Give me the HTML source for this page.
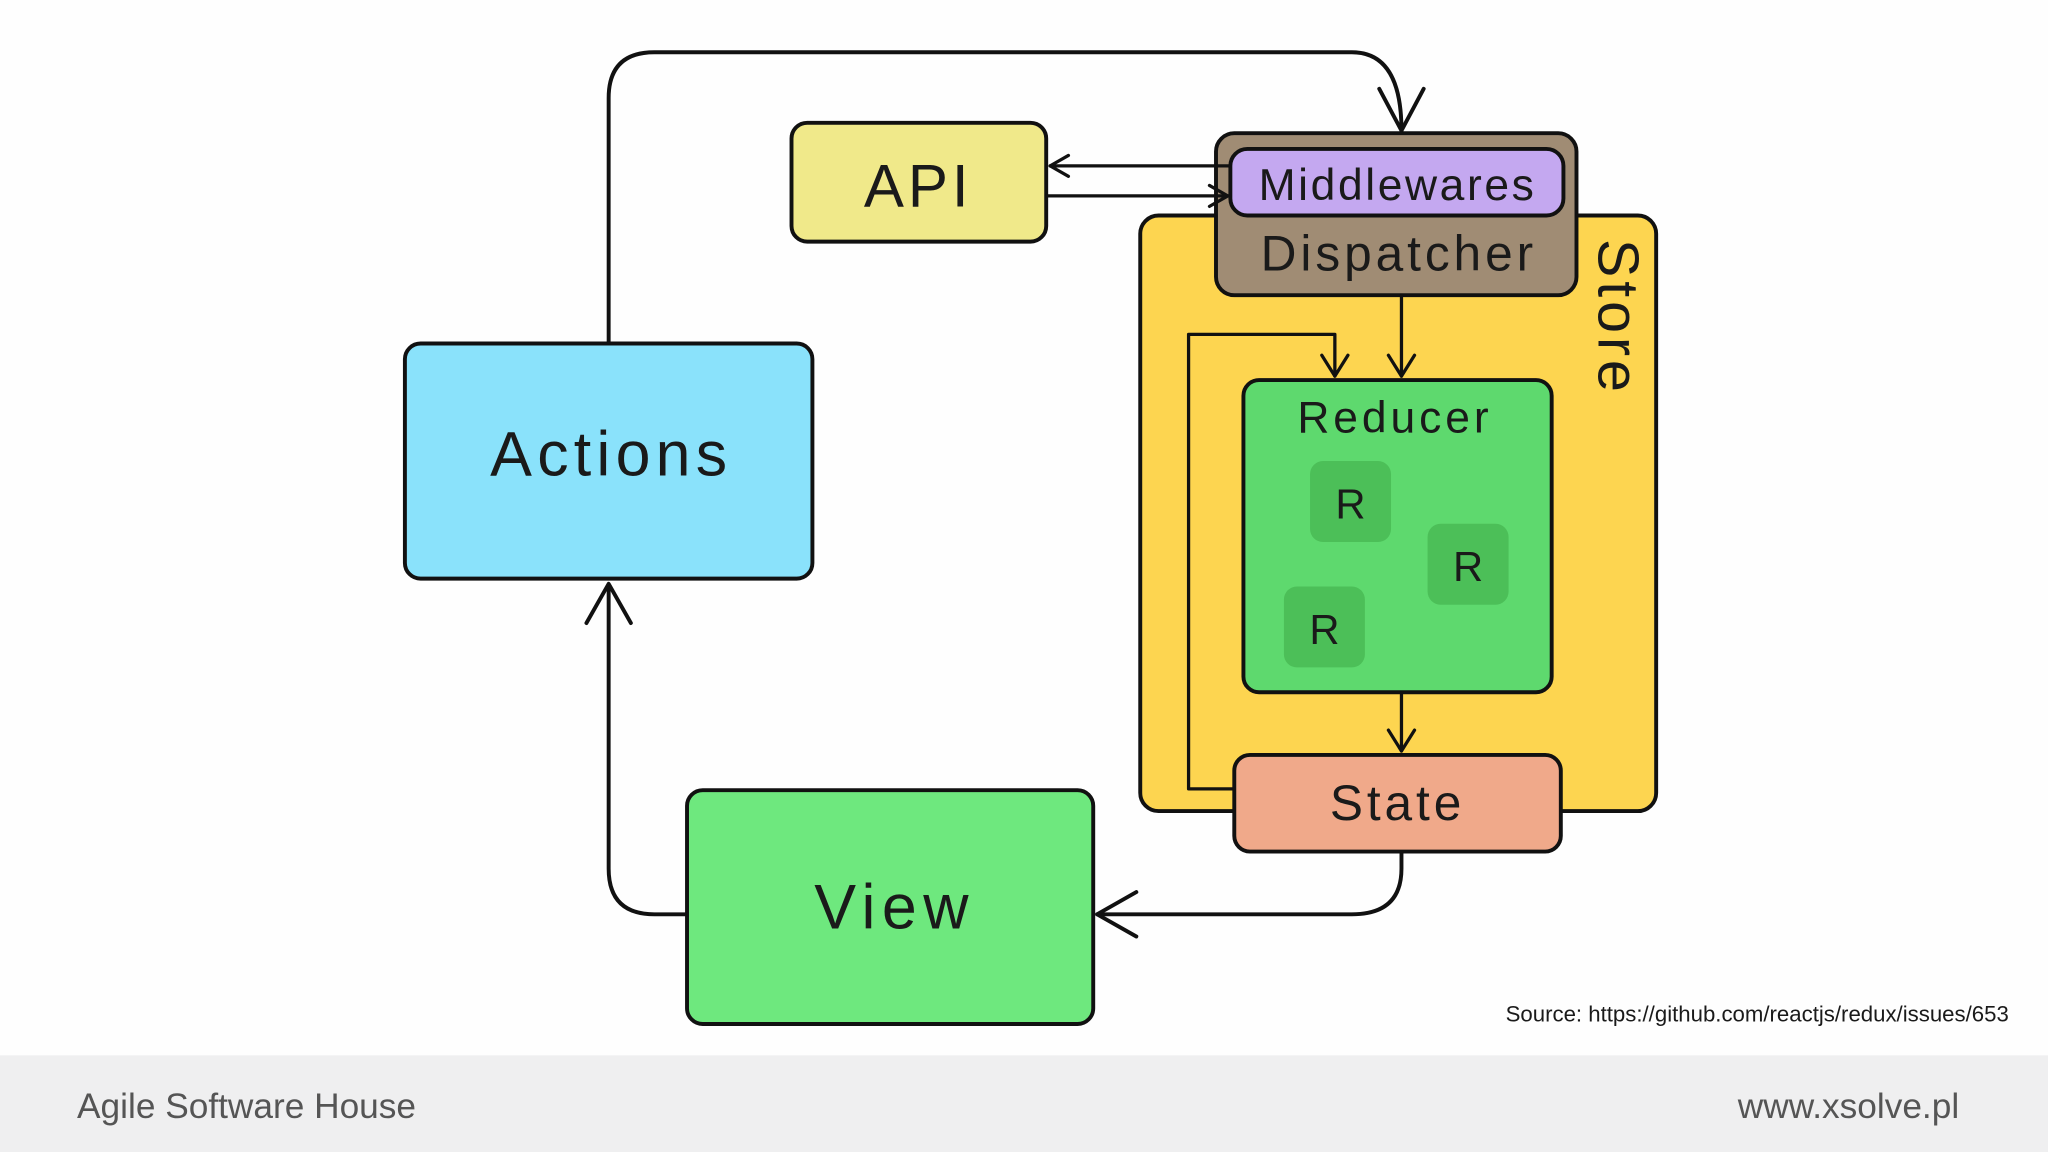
<!DOCTYPE html>
<html><head><meta charset="utf-8"><style>
html,body{margin:0;padding:0;background:#fff;}
svg{display:block;}
.t{font-family:"Liberation Sans",sans-serif;fill:#1a1a1a;}
</style></head><body>
<svg width="2048" height="1152" viewBox="0 0 1568 882" xmlns="http://www.w3.org/2000/svg">
<rect x="0" y="0" width="1568" height="882" fill="#fefefe"/>
<!-- footer -->
<rect x="0" y="808" width="1568" height="74" fill="#efeff0"/>
<text class="t" x="59" y="856" font-size="27" style="fill:#555">Agile Software House</text>
<text class="t" x="1500" y="856" font-size="27" text-anchor="end" style="fill:#555">www.xsolve.pl</text>
<text class="t" x="1538" y="782" font-size="17" text-anchor="end">Source: https://github.com/reactjs/redux/issues/653</text>

<g fill="none" stroke="#111" stroke-width="3" stroke-linecap="round" stroke-linejoin="round">
<path d="M466,263 V75 Q466,40 501,40 H1035 Q1073,40 1073,100"/>
<path d="M1056,68 L1073,100 L1090,68"/>
<path d="M526,700 H501 Q466,700 466,665 V448"/>
<path d="M449,477 L466,447 L483,477"/>
<path d="M1073,652 V665 Q1073,700 1035,700 H840"/>
<path d="M870,683 L840,700 L870,717"/>
</g>

<rect x="873" y="165" width="395" height="456" rx="14" fill="#fdd550" stroke="#111" stroke-width="3"/>
<text class="t" font-size="44" letter-spacing="3" transform="translate(1224,183) rotate(90)">Store</text>

<rect x="606" y="94" width="195" height="91" rx="12" fill="#f0e98a" stroke="#111" stroke-width="3"/>
<text class="t" x="703" y="158" font-size="46" text-anchor="middle" letter-spacing="3">API</text>

<rect x="931" y="102" width="276" height="124" rx="14" fill="#a08c74" stroke="#111" stroke-width="3"/>
<rect x="942" y="114" width="255" height="51" rx="13" fill="#c4a8f0" stroke="#111" stroke-width="3"/>
<text class="t" x="1070" y="153" font-size="34" text-anchor="middle" letter-spacing="2">Middlewares</text>
<text class="t" x="1071" y="207" font-size="38" text-anchor="middle" letter-spacing="3">Dispatcher</text>

<g fill="none" stroke="#111" stroke-width="2.5" stroke-linecap="round" stroke-linejoin="round">
<path d="M941,127 H804"/><path d="M818,119 L804,127 L818,135"/>
<path d="M801,150 H940"/><path d="M926,142 L940,150 L926,158"/>
<path d="M1073,226 V288"/><path d="M1063,272 L1073,288 L1083,272"/>
<path d="M945,604 H910 V256 H1022 V288"/><path d="M1012,272 L1022,288 L1032,272"/>
<path d="M1073,530 V575"/><path d="M1063,559 L1073,575 L1083,559"/>
</g>

<rect x="952" y="291" width="236" height="239" rx="12" fill="#5ed96e" stroke="#111" stroke-width="3"/>
<text class="t" x="1068" y="331" font-size="34" text-anchor="middle" letter-spacing="3">Reducer</text>
<rect x="1003" y="353" width="62" height="62" rx="10" fill="#4cbf58"/>
<text class="t" x="1034" y="397" font-size="32" text-anchor="middle">R</text>
<rect x="1093" y="401" width="62" height="62" rx="10" fill="#4cbf58"/>
<text class="t" x="1124" y="445" font-size="32" text-anchor="middle">R</text>
<rect x="983" y="449" width="62" height="62" rx="10" fill="#4cbf58"/>
<text class="t" x="1014" y="493" font-size="32" text-anchor="middle">R</text>

<rect x="945" y="578" width="250" height="74" rx="12" fill="#f0a98a" stroke="#111" stroke-width="3"/>
<text class="t" x="1070" y="628" font-size="38" text-anchor="middle" letter-spacing="3">State</text>

<rect x="310" y="263" width="312" height="180" rx="12" fill="#8ae2fb" stroke="#111" stroke-width="3"/>
<text class="t" x="468" y="364" font-size="48" text-anchor="middle" letter-spacing="4">Actions</text>

<rect x="526" y="605" width="311" height="179" rx="12" fill="#6ee87e" stroke="#111" stroke-width="3"/>
<text class="t" x="685" y="711" font-size="48" text-anchor="middle" letter-spacing="5">View</text>
</svg>
</body></html>
